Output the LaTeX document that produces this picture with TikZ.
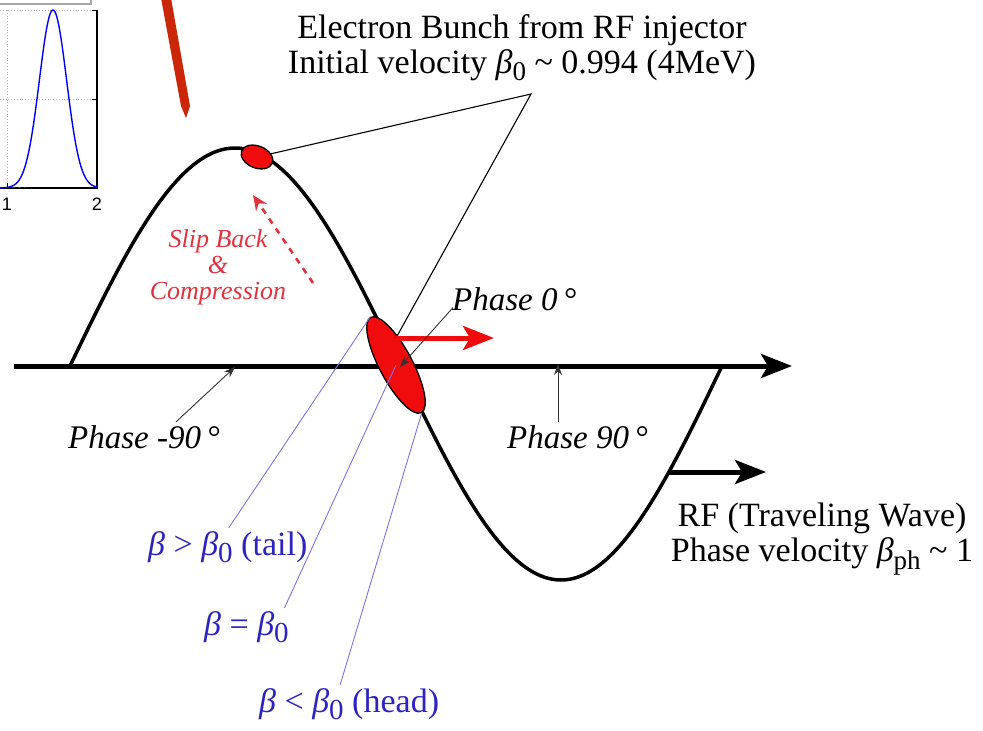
\documentclass[tikz,border=0pt]{standalone}
\usepackage{fontspec}
\setmainfont{Liberation Serif}
\newfontfamily\plotfont{Liberation Sans}
\usetikzlibrary{arrows.meta,shapes.geometric}
\definecolor{bred}{RGB}{240,12,12}
\definecolor{slipred}{RGB}{226,50,62}
\definecolor{betablue}{RGB}{45,35,195}
\definecolor{betaline}{RGB}{125,115,228}
\definecolor{streak}{RGB}{204,38,8}
\newcommand\bsub[2]{\raisebox{-0.22em}{\fontsize{#1}{#1}\selectfont #2}}
\tikzset{
  bigarrow/.style={line width=5pt,-{Stealth[length=31pt,width=24pt,inset=7pt]}},
  pointer/.style={line width=0.9pt,black!80,-{Stealth[length=11pt,width=8pt]}},
  callout/.style={line width=1.1pt,black},
  betaln/.style={line width=0.9pt,betaline},
  bunchshape/.style={ellipse,draw=black,line width=1.3pt,fill=bred,inner sep=0pt},
  bigtext/.style={font=\fontsize{34}{35}\selectfont,align=center,inner sep=0pt},
  phasetext/.style={font=\fontsize{33}{33}\selectfont\itshape,inner sep=0pt,anchor=base west},
  betatext/.style={font=\fontsize{34}{34}\selectfont,text=betablue,inner sep=0pt,anchor=base west},
}
\begin{document}
\begin{tikzpicture}[x=1pt,y=-1pt]
\useasboundingbox (0,0) rectangle (983,731);
\clip (0,0) rectangle (983,731);

% --- plot fragment (top left)
\draw[gray!70,line width=1.3pt] (-3,-6) rectangle (91,4);
\draw[gray!60,dotted,line width=0.8pt] (0,10) -- (97,10) (0,99) -- (97,99) (7,10) -- (7,188);
\draw[line width=1.3pt] (0,188) -- (97,188) -- (97,10);
\draw[line width=1pt] (97,10) -- (92,10) (97,99) -- (92,99) (7,188) -- (7,183);
\draw[red!80!black,dashed,line width=1pt] (0,187) -- (25,187);
\draw[blue,line width=1.4pt] plot[domain=0:97,samples=120,smooth] (\x,{188-178*exp(-((\x-53)^2)/370)});
\node[font=\plotfont\fontsize{18}{18}\selectfont] (tickone) at (7,204) {1};
\node[font=\plotfont\fontsize{18}{18}\selectfont] (ticktwo) at (97,204) {2};

% --- red streak
\fill[streak] (161,-2) -- (171,-2) -- (190,106) -- (186,118) -- (181,106) -- cycle;

% --- axis and wave
\draw[bigarrow] (14,366) -- (792,366);
\draw[line width=3.5pt,line join=round]
  plot[domain=70:400,samples=90] (\x,{366-218*sin((\x-70)*0.545455)})
  -- plot[domain=400:722,samples=90] (\x,{366+214*sin((\x-400)*0.559006)});

% --- bunches
\node[bunchshape,minimum width=33pt,minimum height=22pt,rotate=-22] (bunchtop) at (257,157) {};
\node[bunchshape,minimum width=108pt,minimum height=33pt,rotate=-62] (bunch) at (396,365) {};
\coordinate (bunchedge) at (396,338);
\coordinate (callpt) at (531,94);

% --- top text
\node[bigtext,anchor=north] (title) at (522,14)
  {Electron Bunch from RF injector\\
   Initial velocity {\itshape β}\bsub{27}{0} \textasciitilde{} 0.994 (4MeV)};
\draw[callout] (bunchtop) -- (callpt) -- (bunchedge);

% --- red velocity arrow
\coordinate (redtip) at (494,338);
\draw[bigarrow,bred] (bunchedge) -- (redtip);

% --- slip back
\node[font=\fontsize{26}{26}\selectfont\itshape,text=slipred,align=center,inner sep=0pt,anchor=north]
  (slip) at (218,229) {Slip Back\\\&\\Compression};
\coordinate (sliptail) at (313,283);
\coordinate (sliptip) at (253,195);
\draw[slipred,line width=2.6pt,dash pattern=on 6pt off 6pt,-{Stealth[length=15pt,width=13pt]}] (sliptail) -- (sliptip);

% --- phase labels
\node[phasetext] (phzero) at (452,310) {Phase 0\,°};
\node[phasetext] (phminus) at (68,448) {Phase -90\,°};
\node[phasetext] (phplus) at (507,448) {Phase 90\,°};
\coordinate (phzerotip) at (400,367);
\coordinate (phminustip) at (235,367);
\coordinate (phplustip) at (558,364);
\draw[pointer] ([shift={(1,-3)}]phzero.south west) -- (phzerotip);
\draw[pointer] ([xshift=32pt,yshift=3pt]phminus.north) -- (phminustip);
\draw[pointer] (phplustip |- phplus.north) ++(0,-3) -- (phplustip);

% --- RF arrow and text
\coordinate (rfstart) at (668,472);
\coordinate (rftip) at (766,472);
\draw[bigarrow] (rfstart) -- (rftip);
\node[bigtext,anchor=north] (rftext) at (822,503)
  {RF (Traveling Wave)\\
   Phase velocity {\itshape β}\bsub{27}{ph} \textasciitilde{} 1};

% --- beta labels
\node[betatext] (tail) at (148,555) {{\itshape β} > {\itshape β}\bsub{29}{0} (tail)};
\node[betatext] (equal) at (204,635) {{\itshape β} = {\itshape β}\bsub{29}{0}};
\node[betatext] (head) at (259,712) {{\itshape β} < {\itshape β}\bsub{29}{0} (head)};
\draw[betaln] ([xshift=1pt,yshift=3pt]tail.north) -- (bunch.west);
\draw[betaln] ([xshift=38pt,yshift=3pt]equal.north) -- (bunch.center);
\draw[betaln] ([xshift=-9pt,yshift=3pt]head.north) -- (bunch.east);
\end{tikzpicture}
\end{document}
